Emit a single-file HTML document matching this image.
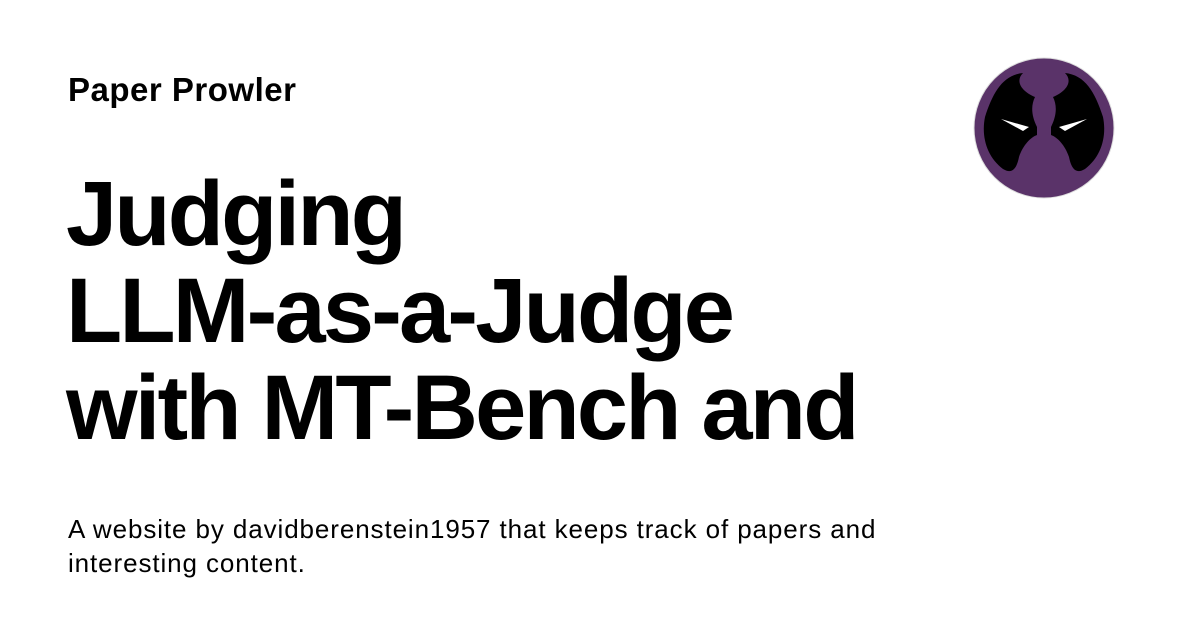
<!DOCTYPE html>
<html><head><meta charset="utf-8"><style>
html,body{margin:0;padding:0;background:#fff;}
body{width:1200px;height:630px;position:relative;overflow:hidden;font-family:"Liberation Sans",Arial,sans-serif;color:#000;}
#site{position:absolute;left:68px;top:70px;font-size:33px;font-weight:bold;line-height:40px;letter-spacing:0.5px;}
#title{position:absolute;left:66px;top:166px;font-size:92px;font-weight:bold;line-height:97px;letter-spacing:-2.8px;margin:0;}
#desc{position:absolute;left:68px;top:512px;font-size:26px;line-height:34px;width:900px;letter-spacing:0.9px;}
#logo{position:absolute;left:973px;top:57px;width:142px;height:142px;}
</style></head><body>
<div id="site">Paper Prowler</div>
<h1 id="title">Judging<br>LLM-as-a-Judge<br>with MT-Bench and</h1>
<div id="desc">A website by davidberenstein1957 that keeps track of papers and<br>interesting content.</div>
<svg id="logo" viewBox="0 0 142 142">
<circle cx="71" cy="71" r="70" fill="#5a3369" stroke="#ddd" stroke-width="1"/>
<path d="M50 16 C30 18 20 35 12 60 C8 80 14 100 30 112 C40 118 44 110 46 100 C50 88 58 80 64 78 L64 70 C58 58 58 48 62 40 C48 34 42 24 50 16 Z" fill="#000"/>
<path d="M92 16 C112 18 122 35 130 60 C134 80 128 100 112 112 C102 118 98 110 96 100 C92 88 84 80 78 78 L78 70 C84 58 84 48 80 40 C94 34 100 24 92 16 Z" fill="#000"/>
<path d="M28 62 L56 70 L50 74 Z" fill="#fff"/>
<path d="M114 62 L86 70 L92 74 Z" fill="#fff"/>
</svg>
</body></html>
